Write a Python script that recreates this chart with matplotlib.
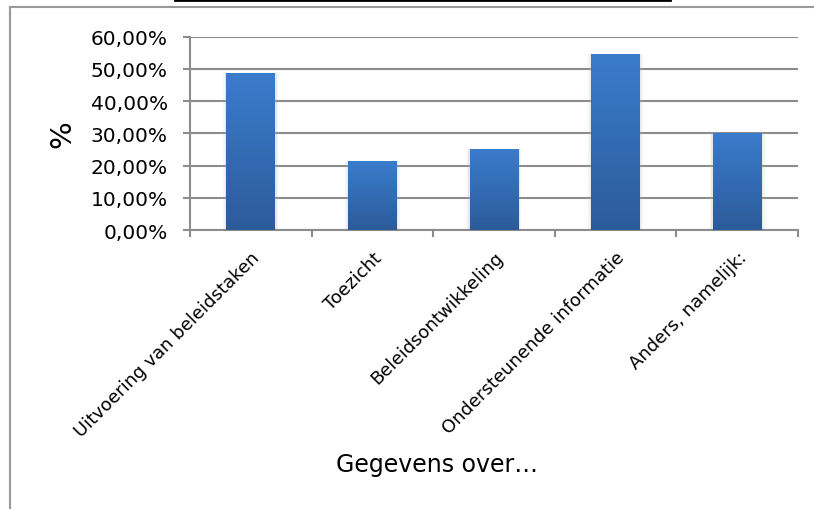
import numpy as np
import matplotlib.pyplot as plt
from matplotlib.colors import LinearSegmentedColormap
from matplotlib.ticker import FuncFormatter, FixedLocator

categories = ["Uitvoering van beleidstaken", "Toezicht", "Beleidsontwikkeling",
              "Ondersteunende informatie", "Anders, namelijk:"]
values = [48.7, 21.3, 25.3, 54.7, 30.2]
yticks = [0, 10, 20, 30, 40, 50, 60]

plt.rcParams['font.family'] = ['DejaVu Sans']

fig = plt.figure(figsize=(8.14, 5.10), dpi=100)
ax = fig.add_axes([0.2334, 0.547, 0.747, 0.379])

x = np.arange(len(categories))
bars = ax.bar(x, values, width=0.40, color='#3574c4', zorder=3)

# gradient fill, lighter at top
cmap = LinearSegmentedColormap.from_list('bl', ['#2c5b9a', '#3a7ccc'])
grad = np.linspace(0, 1, 256).reshape(-1, 1)
for b in bars:
    bx, by = b.get_x(), b.get_y()
    w, h = b.get_width(), b.get_height()
    # soft shadow
    for k, a in [(0.05, 0.12), (0.025, 0.2)]:
        ax.bar(bx + w / 2, h + 0.3, width=w + k, bottom=-0.3,
               color='#b0b0b0', zorder=2, alpha=a, linewidth=0)
    im = ax.imshow(grad, cmap=cmap, origin='lower', aspect='auto',
                   extent=[bx, bx + w, by, by + h], zorder=4)
    im.set_clip_path(b)

ax.set_xlim(-0.5, len(categories) - 0.5)
ax.set_ylim(0, 60)
ax.set_yticks(yticks)
ax.yaxis.set_major_formatter(FuncFormatter(lambda v, p: f"{v:.2f}%".replace('.', ',')))
ax.yaxis.grid(True, color='#8c8c8c', linewidth=1.5, zorder=1)
ax.set_axisbelow(True)

ax.set_xticks(x)
ax.set_xticklabels(categories, rotation=45, ha='right', rotation_mode='anchor',
                   fontsize=13)
ax.xaxis.set_minor_locator(FixedLocator(np.arange(-0.5, len(categories), 1)))
ax.tick_params(axis='x', which='major', length=0, pad=13)
ax.tick_params(axis='x', which='minor', length=5, width=1.5, color='#8c8c8c')
ax.tick_params(axis='y', length=5, width=1.5, color='#8c8c8c', labelsize=14.5, pad=11)

for s in ['top', 'right']:
    ax.spines[s].set_visible(False)
for s in ['left', 'bottom']:
    ax.spines[s].set_color('#8c8c8c')
    ax.spines[s].set_linewidth(1.5)

ax.set_ylabel('%', fontsize=21, labelpad=10)
fig.text(0.537, 0.088, 'Gegevens over…', ha='center', va='center', fontsize=17)

# outer chart frame and cut-off title underline
fig.add_artist(plt.Line2D([0.0123, 0.0123], [0, 0.984], color='#999999', lw=1.5,
                          transform=fig.transFigure))
fig.add_artist(plt.Line2D([0.0123, 1.0], [0.984, 0.984], color='#999999', lw=1.5,
                          transform=fig.transFigure))
fig.add_artist(plt.Line2D([0.215, 0.823], [0.998, 0.998], color='black', lw=2,
                          transform=fig.transFigure))

fig.savefig('out.png', dpi=100)
